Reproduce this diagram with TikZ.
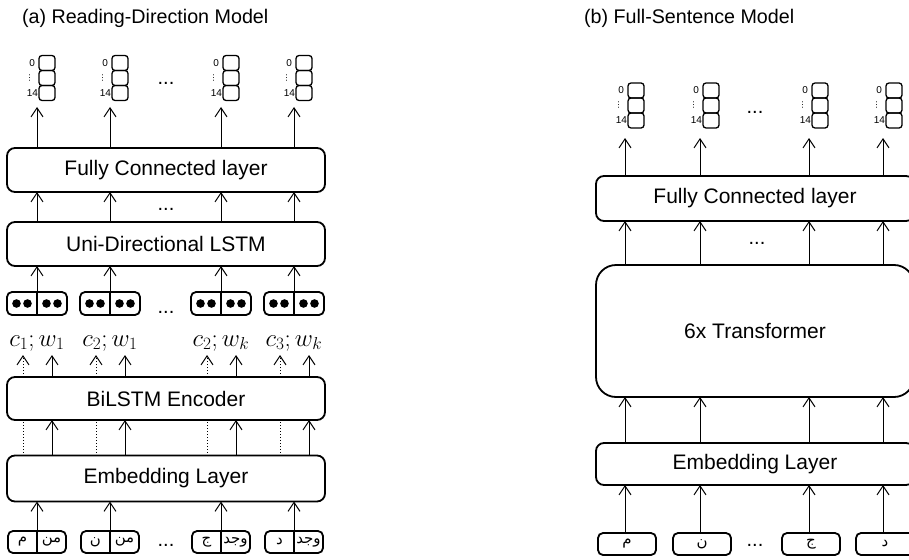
\documentclass[tikz,border=0pt]{standalone}
\usepackage{fontspec}
\setmainfont{Liberation Sans}
\newfontfamily\arabicfont[Script=Arabic]{DejaVu Sans}
\newfontfamily\symfont{DejaVu Sans}
\TeXXeTstate=1
\usetikzlibrary{arrows.meta,positioning}
\newcommand{\ar}[1]{{\arabicfont\beginR #1\endR}}
% output stack: name, x, y of middle cell
\newcommand{\outstack}[3]{%
  \node[cell] (#1m) at (#2,#3) {};
  \node[cell,above=0pt of #1m] (#1t) {};
  \node[cell,below=0pt of #1m] (#1b) {};
  \node[idx,left=4pt of #1t] (#1z) {0};
  \node[idx,left=5.5pt of #1m,font=\symfont\fontsize{8}{9}\selectfont] (#1d) {⋮};
  \node[idx,left=1pt of #1b] (#1n) {14};
}

\begin{document}
\begin{tikzpicture}[x=1pt,y=-1pt,
  >={Straight Barb[length=9pt,width=12pt]},
  every node/.style={inner sep=0pt,outer sep=0pt},
  layerbox/.style={draw,line width=1.8pt,rounded corners=8pt,minimum width=318pt,font=\fontsize{21}{25}\selectfont},
  cell/.style={draw,line width=1.3pt,rounded corners=3pt,minimum width=16pt,minimum height=15pt},
  idx/.style={font=\fontsize{10}{12}\selectfont},
  vecbox/.style={draw,line width=1.8pt,rounded corners=5pt,minimum width=60pt,minimum height=23pt},
  inbox/.style={draw,line width=1.8pt,rounded corners=5pt,minimum width=58pt,minimum height=22pt},
  arab/.style={font=\fontsize{15}{18}\selectfont},
  heading/.style={anchor=west,font=\fontsize{19.7}{23}\selectfont},
  etc/.style={anchor=base,font=\fontsize{20}{24}\selectfont},
  lbl/.style={font=\fontsize{27}{30}\selectfont,text height=17pt,text depth=7pt,inner sep=1pt},
  uparr/.style={->,line width=1pt},
  duparr/.style={->,line width=1pt,dotted},
]
\useasboundingbox (0,0) rectangle (909,559);
\clip (0,0) rectangle (909,559);

\node[heading] (ttlA) at (22,18) {(a) Reading-Direction Model};
\node[heading] (ttlB) at (584,18) {(b) Full-Sentence Model};

% (a) reading direction
\node[layerbox,minimum height=44pt] (fcA) at (166,170) {Fully Connected layer};
\node[layerbox,minimum height=44pt] (lstmA) at (166,244) {Uni-Directional LSTM};
\node[layerbox,minimum height=43pt] (bilA) at (166,398.5) {BiLSTM Encoder};
\node[layerbox,minimum height=46pt] (embA) at (166,478.5) {Embedding Layer};

\foreach \x/\cn/\wn/\pa/\pb [count=\i] in {37/1/1/م/من,110/2/1/ن/من,221/2/k/ج/وجد,294/3/k/د/وجد}{
  \outstack{sA\i}{\x+10}{78}
  \coordinate (pA\i) at (\x-14,0);
  \coordinate (qA\i) at (\x+15,0);
  \node[vecbox] (vA\i) at (\x,303.5) {};
  \draw[line width=1.8pt] (vA\i.north) -- (vA\i.south);
  \foreach \dx in {-20.5,-9.5,9.5,20.5}
    \fill ([xshift=\dx pt]vA\i.center) circle (4.3pt);
  \node[lbl] (lbA\i) at (\x,341) {$c_{\cn};w_{\wn}$};
  \node[inbox] (inA\i) at (\x,542) {};
  \draw[line width=1.8pt] (inA\i.north) -- (inA\i.south);
  \node[arab] (lA\i) at ([xshift=-14.5pt]inA\i.center) {\ar{\pa}};
  \node[arab] (rA\i) at ([xshift=14.5pt]inA\i.center) {\ar{\pb}};
  \draw[uparr,shorten >=6.5pt] (fcA.north -| vA\i) -- (sA\i b.south -| vA\i);
  \draw[uparr] (lstmA.north -| vA\i) -- (fcA.south -| vA\i);
  \draw[uparr] (vA\i.north) -- (lstmA.south -| vA\i);
  \draw[duparr,shorten >=1pt] (bilA.north -| pA\i) -- (lbA\i.south -| pA\i);
  \draw[uparr,shorten >=1pt] (bilA.north -| qA\i) -- (lbA\i.south -| qA\i);
  \draw[line width=1pt,dotted] (embA.north -| pA\i) -- (bilA.south -| pA\i);
  \draw[uparr] (embA.north -| qA\i) -- (bilA.south -| qA\i);
  \draw[uparr] (inA\i.north) -- (embA.south -| inA\i);
}
\node[etc] (eA1) at (166,84.5) {...};
\node[etc] (eA2) at (166,210) {...};
\node[etc] (eA3) at (166,313) {...};
\node[etc] (eA4) at (166,546.5) {...};

% (b) full sentence
\node[layerbox,minimum height=45pt] (fcB) at (755,198.5) {Fully Connected layer};
\node[layerbox,minimum height=132pt,rounded corners=20pt] (trB) at (755,331) {6x Transformer};
\node[layerbox,minimum height=42pt] (embB) at (755,464) {Embedding Layer};

\foreach \x/\pa [count=\i] in {625/م,700/ن,809/ج,883/د}{
  \outstack{sB\i}{\x+11}{105.5}
  \coordinate (cB\i) at (\x,0);
  \node[inbox] (inB\i) at (\x+2,544) {};
  \node[arab] (lB\i) at (inB\i.center) {\ar{\pa}};
  \draw[uparr,shorten >=10pt] (fcB.north -| cB\i) -- (sB\i b.south -| cB\i);
  \draw[uparr] (trB.north -| cB\i) -- (fcB.south -| cB\i);
  \draw[uparr] (embB.north -| cB\i) -- (trB.south -| cB\i);
  \draw[uparr] (inB\i.north -| cB\i) -- (embB.south -| cB\i);
}
\node[etc] (eB1) at (755,113.5) {...};
\node[etc] (eB2) at (757,244.5) {...};
\node[etc] (eB3) at (755,546.5) {...};
\end{tikzpicture}
\end{document}
